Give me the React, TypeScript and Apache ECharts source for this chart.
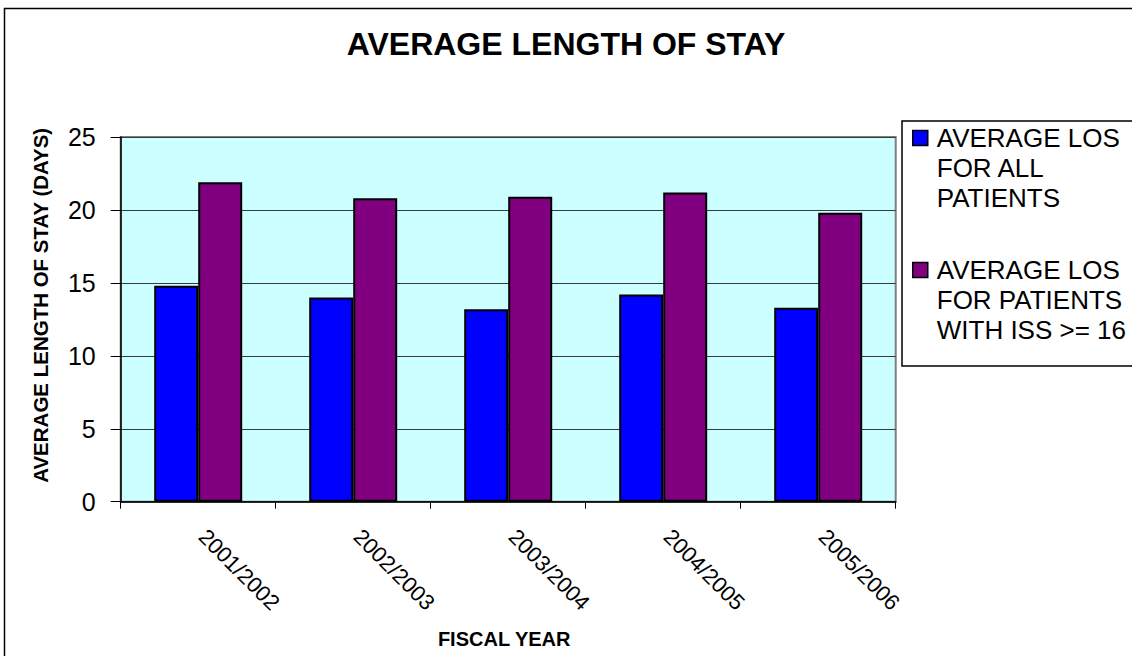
import React, { useEffect, useRef } from "react";
import * as echarts from "echarts";

const categories = ["2001/2002", "2002/2003", "2003/2004", "2004/2005", "2005/2006"];
const allPatients = [14.8, 14.0, 13.2, 14.2, 13.3];
const issPatients = [21.9, 20.8, 20.9, 21.2, 19.8];
const seriesNames = [
  "AVERAGE LOS FOR ALL PATIENTS",
  "AVERAGE LOS FOR PATIENTS WITH ISS >= 16",
];
const legendLabels = [
  "AVERAGE LOS\nFOR ALL\nPATIENTS",
  "AVERAGE LOS\nFOR PATIENTS\nWITH ISS >= 16",
];
const titleText = "AVERAGE LENGTH OF STAY";
const yAxisName = "AVERAGE LENGTH OF STAY (DAYS)";
const xAxisName = "FISCAL YEAR";
const yMin = 0;
const yMax = 25;
const yInterval = 5;

const FONT = "'Liberation Sans', Arial, sans-serif";

export default function App() {
  const ref = useRef<HTMLDivElement>(null);

  useEffect(() => {
    if (!ref.current) return;
    const chart = echarts.init(ref.current, null, { renderer: "svg" });
    chart.setOption({
      animation: false,
      backgroundColor: "#ffffff",
      textStyle: { fontFamily: FONT, color: "#000" },
      title: {
        text: titleText,
        left: "center",
        top: 28,
        padding: 0,
        textStyle: { fontSize: 32, fontWeight: "bold", color: "#000", fontFamily: FONT },
      },
      graphic: [
        {
          type: "rect",
          silent: true,
          shape: { x: 4.5, y: 8.5, width: 1200, height: 700 },
          style: { fill: "none", stroke: "#000", lineWidth: 1.5 },
          z: 0,
        },
        {
          type: "rect",
          silent: true,
          shape: { x: 902, y: 121, width: 300, height: 245 },
          style: { fill: "none", stroke: "#000", lineWidth: 1.5 },
          z: 0,
        },
      ],
      legend: {
        orient: "vertical",
        left: 912,
        top: 63,
        padding: 0,
        itemWidth: 15,
        itemHeight: 15,
        itemGap: -18,
        icon: "rect",
        selectedMode: false,
        itemStyle: { borderColor: "#000", borderWidth: 1.5 },
        // two leading empty lines put the first text line level with the icon
        formatter: (name: string) => "\n\n" + legendLabels[seriesNames.indexOf(name)],
        textStyle: {
          fontSize: 26,
          lineHeight: 30,
          color: "#000",
          fontFamily: FONT,
          padding: [0, 0, 0, 4],
        },
        data: seriesNames,
      },
      grid: {
        left: 120.7,
        right: 236.3,
        top: 137,
        bottom: 154.3,
        show: true,
        backgroundColor: "#CCFFFF",
        borderColor: "#808080",
        borderWidth: 2,
      },
      xAxis: {
        type: "category",
        data: categories,
        axisLine: { show: true, lineStyle: { color: "#000", width: 1.5 } },
        axisTick: { show: true, length: 7, alignWithLabel: false, lineStyle: { color: "#000" } },
        axisLabel: {
          interval: 0,
          rotate: -45,
          fontSize: 22,
          margin: 27,
          padding: [0, 0, 0, 6],
          color: "#000",
          fontFamily: FONT,
        },
        name: xAxisName,
        nameLocation: "middle",
        nameGap: 137,
        nameTextStyle: {
          fontSize: 20,
          fontWeight: "bold",
          color: "#000",
          fontFamily: FONT,
          verticalAlign: "middle",
          padding: [0, 8, 0, 0],
        },
      },
      yAxis: {
        type: "value",
        min: yMin,
        max: yMax,
        interval: yInterval,
        axisLine: { show: true, lineStyle: { color: "#000", width: 1.5 } },
        axisTick: { show: true, length: 10, lineStyle: { color: "#000" } },
        axisLabel: { fontSize: 25, margin: 25, color: "#000", fontFamily: FONT },
        splitLine: { show: true, lineStyle: { color: "#3a3a3a", width: 1 } },
        name: yAxisName,
        nameLocation: "middle",
        nameGap: 80,
        nameTextStyle: {
          fontSize: 20.5,
          fontWeight: "bold",
          color: "#000",
          fontFamily: FONT,
          verticalAlign: "middle",
          padding: [0, 0, 0, 28],
        },
      },
      series: [
        {
          name: seriesNames[0],
          type: "bar",
          data: allPatients,
          barWidth: 44,
          barGap: "0%",
          itemStyle: { color: "#0000FF", borderColor: "#000", borderWidth: 2 },
        },
        {
          name: seriesNames[1],
          type: "bar",
          data: issPatients,
          barWidth: 44,
          barGap: "0%",
          itemStyle: { color: "#800080", borderColor: "#000", borderWidth: 2 },
        },
      ],
    });
    return () => chart.dispose();
  }, []);

  return (
    <div
      ref={ref}
      style={{ position: "fixed", left: 0, top: 0, width: 1132, height: 656 }}
    />
  );
}
